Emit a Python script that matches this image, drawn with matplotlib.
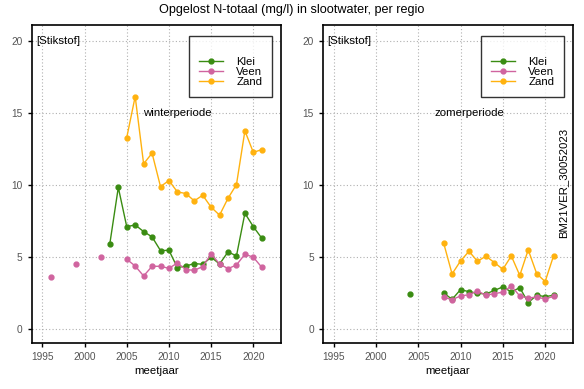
import numpy as np
import matplotlib
matplotlib.use("Agg")
import matplotlib.pyplot as plt
from matplotlib.lines import Line2D

plt.rcParams['font.family'] = ['Liberation Sans', 'DejaVu Sans']

nan = np.nan
jaren = list(range(1996, 2022))

# Winterperiode (mg/l), per jaar 1996-2021; nan = geen meting
klei_w = [nan, nan, nan, nan, nan, nan, nan, 5.93, 9.82, 7.1, 7.22, 6.76, 6.39, 5.44, 5.46,
          4.26, 4.37, 4.54, 4.49, 4.98, 4.51, 5.35, 5.07, 8.03, 7.1, 6.3]
veen_w = [3.61, nan, nan, 4.54, nan, nan, 5.02, nan, nan, 4.84, 4.37, 3.68, 4.35, 4.35, 4.21,
          4.58, 4.12, 4.07, 4.33, 5.21, 4.51, 4.19, 4.44, 5.19, 4.98, 4.28]
zand_w = [nan, nan, nan, nan, nan, nan, nan, nan, nan, 13.28, 16.13, 11.46, 12.2, 9.88, 10.3,
          9.51, 9.4, 8.89, 9.28, 8.45, 7.9, 9.07, 10.02, 13.75, 12.25, 12.45]

# Zomerperiode (mg/l)
klei_z = [nan, nan, nan, nan, nan, nan, nan, nan, 2.41, nan, nan, nan, 2.5, 2.06, 2.73,
          2.59, 2.48, 2.43, 2.68, 2.92, 2.57, 2.87, 1.83, 2.34, 2.25, 2.34]
veen_z = [nan, nan, nan, nan, nan, nan, nan, nan, nan, nan, nan, nan, 2.2, 2.04, 2.29,
          2.38, 2.64, 2.34, 2.46, 2.55, 2.99, 2.29, 2.15, 2.22, 2.08, 2.27]
zand_z = [nan, nan, nan, nan, nan, nan, nan, nan, nan, nan, nan, nan, 5.97, 3.82, 4.72,
          5.39, 4.7, 5.05, 4.61, 4.14, 5.07, 3.72, 5.49, 3.84, 3.29, 5.09]

kleuren = {'Klei': '#3a8c12', 'Veen': '#d0649f', 'Zand': '#ffb20f'}
fs = 8.2

fig = plt.figure(figsize=(5.84, 3.89), dpi=100)
ax1 = fig.add_axes([0.0543, 0.1183, 0.4269, 0.8174])
ax2 = fig.add_axes([0.553, 0.1183, 0.428, 0.8174])


def opmaak(ax, periode):
    ax.set_xlim(1993.74, 2023.28)
    ax.set_ylim(-0.97, 21.09)
    ax.set_xticks([1995, 2000, 2005, 2010, 2015, 2020])
    ax.set_yticks([0, 5, 10, 15, 20])
    ax.grid(True, color='#b0b0b0', linestyle=(0, (1, 2)), linewidth=0.8)
    ax.set_axisbelow(True)
    ax.tick_params(labelsize=7.3, labelcolor='#555555', color='black', length=3, width=1,
                   direction='out')
    for s in ax.spines.values():
        s.set_linewidth(1.2)
    ax.set_xlabel('meetjaar', fontsize=fs, labelpad=3)
    ax.text(1994.3, 20, '[Stikstof]', fontsize=fs, ha='left', va='center')
    ax.text(2011, 15, periode, fontsize=fs, ha='center', va='center')
    handles = [Line2D([0], [0], color=kleuren[k], marker='o', markersize=3.5, lw=1, label=k)
               for k in ['Klei', 'Veen', 'Zand']]
    leg = ax.legend(handles=handles, loc='upper right', bbox_to_anchor=(0.964, 0.967),
                    borderaxespad=0, fontsize=fs, frameon=True, fancybox=False,
                    borderpad=0.85, labelspacing=0.0, handlelength=2.1, handletextpad=1.2,
                    title=' ', title_fontsize=fs + 1, edgecolor='black')
    leg.get_frame().set_linewidth(1.0)


def reeks(ax, y, naam):
    ax.plot(jaren, y, color=kleuren[naam], marker='o', markersize=3.5, lw=1, clip_on=False)


reeks(ax1, klei_w, 'Klei')
reeks(ax1, veen_w, 'Veen')
reeks(ax1, zand_w, 'Zand')
opmaak(ax1, 'winterperiode')

reeks(ax2, klei_z, 'Klei')
reeks(ax2, veen_z, 'Veen')
reeks(ax2, zand_z, 'Zand')
opmaak(ax2, 'zomerperiode')
ax2.text(2022.1, 10.1, 'BM21VER_30052023', fontsize=fs, rotation=90, ha='center', va='center')

fig.suptitle('Opgelost N-totaal (mg/l) in slootwater, per regio', fontsize=9.1, y=0.99)

fig.savefig('out.png', dpi=100)
